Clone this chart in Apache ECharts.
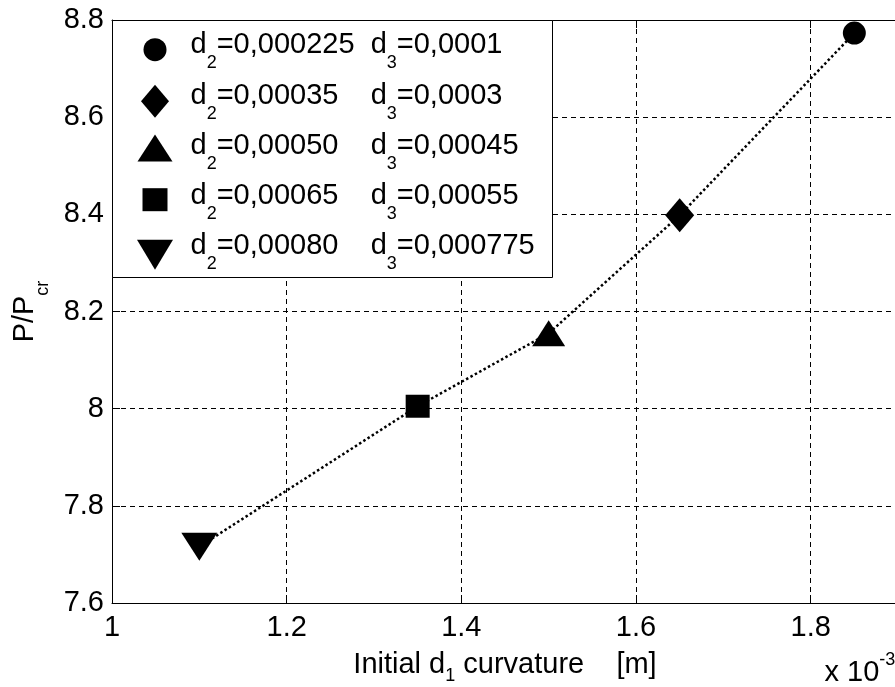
<!DOCTYPE html>
<html>
<head>
<meta charset="utf-8">
<script src="https://cdn.jsdelivr.net/npm/echarts@6/dist/echarts.min.js"></script>
<style>
  html, body { margin: 0; padding: 0; background: #fff; }
  #chart { width: 895px; height: 687px; }
</style>
</head>
<body>
<div id="chart"></div>
<script>
// Initial curvature d1 (in units of 10^-3 m) for each (d2, d3) combination
const curvatureD1 = [1.85, 1.65, 1.50, 1.35, 1.10];
// Load ratio P/Pcr reached for each combination
const loadRatio = [8.773, 8.398, 8.155, 8.005, 7.716];
// Legend values of d2 and d3
const d2Values = ['0,000225', '0,00035', '0,00050', '0,00065', '0,00080'];
const d3Values = ['0,0001', '0,0003', '0,00045', '0,00055', '0,000775'];
// Axis ranges and tick steps
const xRange = [1, 1.9];
const xStep = 0.2;
const yRange = [7.6, 8.8];
const yStep = 0.2;

const FONT = "'Liberation Sans', Arial, Helvetica, sans-serif";
const MAIN = 29, SUB = 18;

// Marker shapes: chart size, legend icon size, legend row placement
const markers = [
  { symbol: 'circle',   size: [23, 23], icon: [23, 23], iconY: 46.7,  textY: 42.2 },
  { symbol: 'diamond',  size: [29, 34], icon: [28, 33], iconY: 98.3,  textY: 93.3 },
  { symbol: 'triangle', size: [33, 26], icon: [35, 27], iconY: 145.0, textY: 143.3 },
  { symbol: 'rect',     size: [24, 23], icon: [25, 23], iconY: 196.7, textY: 193.3 },
  { symbol: 'path://M0,0L2,0L1,2Z', size: [36, 28], icon: [36, 30], iconY: 251.7, textY: 243.3 }
];
const ICON_X = 155;      // legend icon centre
const TEXT_X = 190.5;    // legend text start
const D3_COLUMN = 154;   // width of the "=value " column after d2
const LEGEND_NUDGE = -7.5;

const names = d2Values.map((v, i) => 'd2=' + v + ' d3=' + d3Values[i]);

// Subscript token: top-aligned, pushed down by its top padding
function subStyle(size, drop, mainLine) {
  return {
    fontSize: size, fontFamily: FONT, color: '#000',
    lineHeight: 1, verticalAlign: 'top',
    padding: [mainLine / 2 + drop - size / 2, 0, 0, 0]
  };
}

const legendRich = {
  m: { fontSize: MAIN, fontFamily: FONT, color: '#000', lineHeight: 50, verticalAlign: 'middle' },
  c: { fontSize: MAIN, fontFamily: FONT, color: '#000', lineHeight: 50, verticalAlign: 'middle', width: D3_COLUMN, align: 'left' },
  s: subStyle(SUB, 17.5, 50)
};

const legends = markers.map((mk, i) => {
  const w = mk.icon[0], h = mk.icon[1];
  const pb = Math.max(0, 2 * (mk.iconY - mk.textY));
  const shift = Math.max(0, pb / 2 + MAIN / 2 - h / 2);
  return {
    data: [{ name: names[i], icon: mk.symbol }],
    orient: 'vertical',
    left: ICON_X - w / 2,
    top: mk.iconY - h / 2 - shift + LEGEND_NUDGE,
    padding: 0,
    itemWidth: w,
    itemHeight: h,
    symbolKeepAspect: false,
    selectedMode: false,
    itemStyle: { color: '#000', opacity: 1 },
    z: 10,
    formatter: () => '{m|d}{s|2}{c|=' + d2Values[i] + '}{m|d}{s|3}{m|=' + d3Values[i] + '}',
    textStyle: {
      fontSize: MAIN, fontFamily: FONT, color: '#000',
      padding: [0, 0, pb, TEXT_X - (ICON_X + w / 2 + 5)],
      rich: legendRich
    }
  };
});

// Dotted line through the points, ordered by curvature
const order = curvatureD1.map((x, i) => i).sort((a, b) => curvatureD1[a] - curvatureD1[b]);
const trendData = order.map(i => [curvatureD1[i], loadRatio[i]]);

const series = [{
  type: 'line',
  name: 'trend',
  data: trendData,
  symbol: 'none',
  silent: true,
  z: 2,
  lineStyle: { color: '#000', width: 2.5, type: [2.5, 2.5], opacity: 1 }
}].concat(markers.map((mk, i) => ({
  type: 'scatter',
  name: names[i],
  data: [[curvatureD1[i], loadRatio[i]]],
  symbol: mk.symbol,
  symbolSize: mk.size,
  itemStyle: { color: '#000', opacity: 1 },
  z: 3
})));

const mainName = { fontSize: MAIN, fontFamily: FONT, color: '#000', lineHeight: 36, verticalAlign: 'middle' };
const xNameRich = { m: mainName, s: subStyle(SUB, 11.5, 36) };
const yNameRich = { m: mainName, s: subStyle(SUB, 18, 36) };

const chart = echarts.init(document.getElementById('chart'), null, { renderer: 'canvas' });
chart.setOption({
  animation: false,
  backgroundColor: '#fff',
  grid: { left: 112, top: 20, right: -3, bottom: 84, containLabel: false, outerBoundsMode: 'none' },
  legend: legends,
  xAxis: [{
    type: 'value',
    min: xRange[0], max: xRange[1], interval: xStep,
    position: 'bottom',
    name: '{m|Initial d}{s|1}{m| curvature    [m]}',
    nameLocation: 'middle',
    nameGap: 40,
    nameTextStyle: { rich: xNameRich },
    axisLine: { show: true, lineStyle: { color: '#000', width: 1 } },
    axisTick: { show: true, inside: true, length: 8, lineStyle: { color: '#000' } },
    axisLabel: { fontSize: MAIN, fontFamily: FONT, color: '#000', margin: 10, showMaxLabel: false },
    splitLine: { show: true, lineStyle: { color: '#000', width: 1, type: [5, 4] } }
  }, {
    type: 'value',
    min: xRange[0], max: xRange[1], interval: xStep,
    position: 'top',
    axisLine: { show: true, lineStyle: { color: '#000', width: 1 } },
    axisTick: { show: true, inside: true, length: 8, lineStyle: { color: '#000' } },
    axisLabel: { show: false },
    splitLine: { show: false }
  }],
  yAxis: [{
    type: 'value',
    min: yRange[0], max: yRange[1], interval: yStep,
    position: 'left',
    name: '{m|P/P}{s|cr}',
    nameLocation: 'middle',
    nameRotate: 90,
    nameGap: 69,
    nameTextStyle: { rich: yNameRich },
    axisLine: { show: true, lineStyle: { color: '#000', width: 1 } },
    axisTick: { show: true, inside: true, length: 8, lineStyle: { color: '#000' } },
    axisLabel: { fontSize: MAIN, fontFamily: FONT, color: '#000', margin: 8 },
    splitLine: { show: true, lineStyle: { color: '#000', width: 1, type: [5, 4] } }
  }],
  graphic: [{
    type: 'rect',
    z: 5,
    shape: { x: 112.5, y: 20.5, width: 440, height: 257 },
    style: { fill: '#fff', stroke: '#000', lineWidth: 1 }
  }, {
    type: 'text',
    z: 5,
    x: 824.5,
    y: 650.5,
    style: {
      text: '{m|x 10}{p|-3}',
      align: 'left',
      verticalAlign: 'top',
      rich: {
        m: { fontSize: MAIN, fontFamily: FONT, fill: '#000', lineHeight: 44, verticalAlign: 'middle' },
        p: { fontSize: SUB, fontFamily: FONT, fill: '#000', lineHeight: 1, verticalAlign: 'top', padding: [0.5, 0, 0, 0] }
      }
    }
  }],
  series: series
});
</script>
</body>
</html>
